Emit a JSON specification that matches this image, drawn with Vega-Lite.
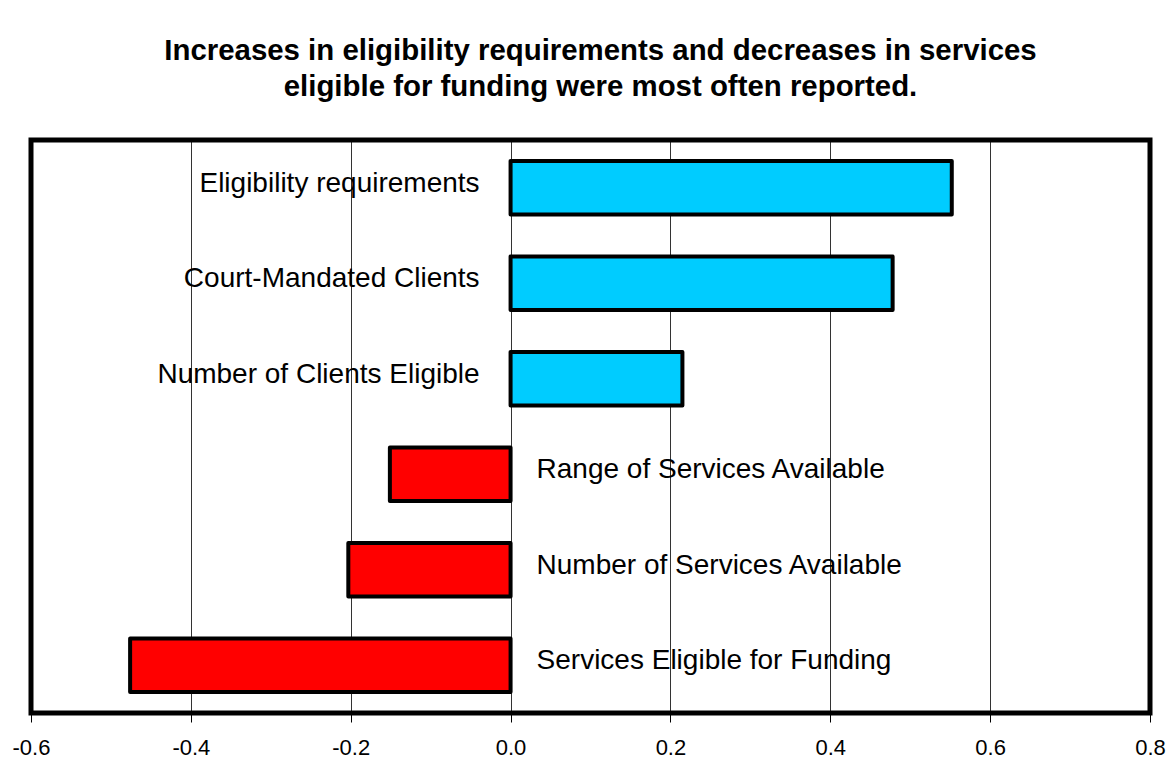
{
  "$schema": "https://vega.github.io/schema/vega-lite/v6.json",
  "width": 1119,
  "height": 573,
  "autosize": "none",
  "padding": {"left": 31, "top": 140, "right": 17, "bottom": 53},
  "background": "white",
  "title": {
    "text": ["Increases in eligibility requirements and decreases in services", "eligible for funding were most often reported."],
    "font": "Liberation Sans",
    "fontSize": 29.4,
    "fontWeight": "bold",
    "color": "black",
    "lineHeight": 36,
    "anchor": "middle",
    "offset": 38,
    "dx": 10
  },
  "data": {
    "values": [
      {"category": "Eligibility requirements", "value": 0.552, "change": "Increase"},
      {"category": "Court-Mandated Clients", "value": 0.478, "change": "Increase"},
      {"category": "Number of Clients Eligible", "value": 0.215, "change": "Increase"},
      {"category": "Range of Services Available", "value": -0.151, "change": "Decrease"},
      {"category": "Number of Services Available", "value": -0.203, "change": "Decrease"},
      {"category": "Services Eligible for Funding", "value": -0.476, "change": "Decrease"}
    ]
  },
  "encoding": {
    "y": {
      "field": "category",
      "type": "nominal",
      "sort": null,
      "axis": null,
      "scale": {"paddingInner": 0.44, "paddingOuter": 0.22}
    }
  },
  "layer": [
    {
      "mark": {"type": "bar", "stroke": "black", "strokeWidth": 4, "strokeJoin": "round"},
      "encoding": {
        "x": {
          "field": "value",
          "type": "quantitative",
          "scale": {"domain": [-0.6, 0.8], "nice": false, "zero": false},
          "axis": {
            "title": null,
            "values": [-0.6, -0.4, -0.2, 0, 0.2, 0.4, 0.6, 0.8],
            "labelExpr": "replace(format(datum.value, '.1f'), '\u2212', '-')",
            "grid": true,
            "gridColor": "black",
            "gridWidth": 1,
            "gridOpacity": 0.8,
            "domain": false,
            "ticks": true,
            "tickColor": "black",
            "tickSize": 9,
            "tickWidth": 1,
            "labelFont": "Liberation Sans",
            "labelFontSize": 22,
            "labelColor": "black",
            "labelPadding": 15,
            "labelFlush": false,
            "labelOverlap": false
          }
        },
        "x2": {"datum": 0},
        "color": {
          "field": "change",
          "type": "nominal",
          "scale": {"domain": ["Increase", "Decrease"], "range": ["#00CCFF", "#FF0000"]},
          "legend": null
        }
      }
    },
    {
      "transform": [{"filter": "datum.value > 0"}],
      "mark": {"type": "text", "align": "right", "baseline": "middle", "dx": -31, "dy": -4, "font": "Liberation Sans", "fontSize": 28, "color": "black"},
      "encoding": {
        "x": {"datum": 0},
        "text": {"field": "category"}
      }
    },
    {
      "transform": [{"filter": "datum.value < 0"}],
      "mark": {"type": "text", "align": "left", "baseline": "middle", "dx": 26, "dy": -4, "font": "Liberation Sans", "fontSize": 28, "color": "black"},
      "encoding": {
        "x": {"datum": 0},
        "text": {"field": "category"}
      }
    }
  ],
  "config": {
    "view": {"stroke": "black", "strokeWidth": 5}
  }
}
